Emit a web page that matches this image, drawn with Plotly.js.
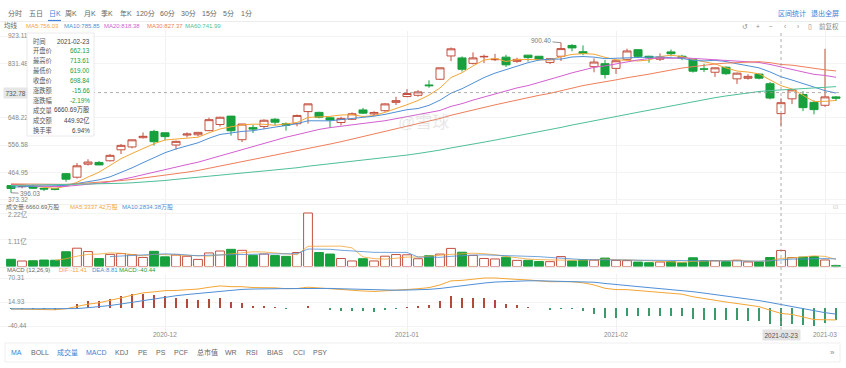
<!DOCTYPE html>
<html><head><meta charset="utf-8">
<script src="https://cdn.plot.ly/plotly-3.0.1.min.js"></script>
<style>html,body{margin:0;padding:0;background:#fff;}#chart{width:846px;height:368px;}</style>
</head><body><div id="chart"></div>
<script>
const dates = ['2020-11-10','2020-11-11','2020-11-12','2020-11-13','2020-11-16','2020-11-17','2020-11-18','2020-11-19','2020-11-20','2020-11-23','2020-11-24','2020-11-25','2020-11-27','2020-11-30',
'2020-12-01','2020-12-02','2020-12-03','2020-12-04','2020-12-07','2020-12-08','2020-12-09','2020-12-10','2020-12-11','2020-12-14','2020-12-15','2020-12-16','2020-12-17','2020-12-18','2020-12-21','2020-12-22','2020-12-23','2020-12-24','2020-12-28','2020-12-29','2020-12-30','2020-12-31',
'2021-01-04','2021-01-05','2021-01-06','2021-01-07','2021-01-08','2021-01-11','2021-01-12','2021-01-13','2021-01-14','2021-01-15','2021-01-19','2021-01-20','2021-01-21','2021-01-22','2021-01-25','2021-01-26','2021-01-27','2021-01-28','2021-01-29',
'2021-02-01','2021-02-02','2021-02-03','2021-02-04','2021-02-05','2021-02-08','2021-02-09','2021-02-10','2021-02-11','2021-02-12','2021-02-16','2021-02-17','2021-02-18','2021-02-19','2021-02-22','2021-02-23','2021-02-24','2021-02-25','2021-02-26',
'2021-03-01','2021-03-02'];
const open = [420.09,416.45,415.05,410.85,408.93,460.17,448.35,492.00,497.99,503.50,540.40,550.06,581.16,602.21,
597.59,556.44,590.02,591.01,604.92,625.51,653.69,574.37,615.01,619.00,643.28,628.23,628.19,668.90,666.24,648.00,632.20,642.99,674.51,661.00,672.00,699.99,
719.46,723.66,758.49,777.63,856.00,849.40,831.00,852.76,843.39,852.00,837.80,858.74,855.00,834.31,855.00,891.38,870.35,820.00,830.00,
814.29,844.68,877.02,855.00,845.00,869.67,855.12,843.64,812.44,801.26,818.00,779.09,780.90,795.00,762.64,662.13,711.85,726.15,700.00,
690.11,718.28];
const high = [420.09,418.70,423.00,412.53,412.45,462.00,496.00,508.61,502.50,526.00,559.99,574.00,598.78,607.80,
597.85,571.54,598.97,599.04,648.79,651.28,654.32,627.75,624.00,642.75,646.90,632.50,658.82,695.00,668.50,649.88,651.50,666.09,681.40,669.90,696.60,718.72,
744.49,740.84,774.00,816.99,884.49,854.43,868.00,860.47,863.00,859.90,850.00,859.50,855.72,848.00,900.40,895.90,891.50,848.00,842.41,
842.00,880.50,878.08,856.50,864.77,877.77,859.80,844.82,829.88,817.33,821.00,799.84,794.69,796.79,768.50,713.61,745.00,737.21,706.70,
880.00,721.11];
const low = [396.03,410.58,409.52,401.66,404.09,433.01,443.50,487.57,489.06,501.79,526.20,545.37,578.45,554.51,
572.05,541.21,582.43,585.50,603.05,618.50,588.00,566.34,596.80,610.20,623.80,605.00,619.50,628.54,646.07,614.23,622.57,641.00,660.80,655.00,668.36,691.12,
717.19,719.20,749.10,775.20,838.39,803.62,827.34,832.00,838.75,819.10,833.00,837.28,841.42,828.62,838.82,871.60,858.66,801.00,780.10,
795.56,842.20,853.06,833.42,838.97,854.75,841.75,800.02,801.73,785.33,792.44,762.01,776.27,777.37,710.20,619.00,694.17,670.58,659.51,
685.05,705.00];
const close = [410.36,417.13,411.76,408.50,408.09,441.61,486.64,499.27,489.61,521.85,555.38,574.00,585.76,567.60,
584.76,568.82,593.38,599.04,641.76,649.88,604.48,627.07,609.99,639.83,633.25,622.77,655.90,695.00,649.86,640.34,645.98,661.77,663.69,665.99,694.78,705.67,
729.77,735.11,755.98,816.04,880.02,811.19,849.44,854.41,845.00,826.16,844.55,850.45,844.99,846.64,880.80,883.09,864.16,835.43,793.53,
839.81,872.79,854.69,849.99,852.23,863.42,849.46,804.82,811.66,816.12,796.22,798.15,787.38,781.30,714.50,698.84,742.02,682.22,675.50,
718.43,714.00];
// volume in millions of shares
const volume = [30.0,22.8,23.9,26.8,26.0,61.2,76.0,62.0,32.9,50.3,53.6,48.9,37.6,63.0,
40.1,47.7,42.6,29.4,56.3,64.3,71.3,67.1,46.5,52.0,45.2,42.1,58.0,222.1,58.0,51.7,33.2,22.9,32.3,22.9,42.8,49.6,
48.6,32.2,44.7,51.5,75.1,59.3,46.3,33.3,31.3,38.8,25.4,25.7,20.8,20.1,41.2,23.1,27.3,26.4,34.9,
25.4,24.3,18.3,15.8,18.6,20.2,15.2,36.2,23.8,23.8,19.8,25.9,18.9,18.9,37.3,66.61,36.8,39.0,41.0,
27.1,4.0];
// closes before the visible window (needed for the moving averages / MACD drawn from the left edge)
const earlierCloses = [377.42,375.71,400.37,409.99,402.84,404.67,430.63,447.75,442.68,498.32,
475.05,447.37,407.00,418.32,330.21,366.28,371.34,372.72,419.62,449.76,441.76,423.43,442.15,449.39,424.23,380.36,387.79,407.34,421.20,419.07,429.01,
448.16,415.09,425.68,413.98,425.30,425.92,434.00,442.30,446.65,461.30,448.88,439.67,430.83,421.94,422.64,425.79,420.63,420.28,424.68,406.02,410.83,388.04,
400.51,423.90,420.98,438.09,429.95,421.26];

const priceTicks = [923.11, 831.48, 648.22, 556.58, 464.95, 373.32];
const volTicks = [222, 111];
const volTickText = ['2.22亿', '1.11亿'];
const macdTicks = [70.31, 14.93, -40.44];
const monthTicks = ['2020-12-01','2021-01-04','2021-02-01','2021-03-01'];
const monthLabels = ['2020-12','2021-01','2021-02','2021-03'];
const focusDate = '2021-02-23';
const crosshairPrice = 732.78;
const highMark = {date:'2021-01-25', value:900.40};
const lowMark = {date:'2020-11-10', value:396.03};

const maLegend = ['MA5:756.03','MA10:785.85','MA20:818.38','MA30:827.37','MA60:741.99'];
const maPeriods = [5,10,20,30,60];
const maColors = ['#f4a636','#4f8fd6','#d35fd0','#ef7f5a','#4fbf9a'];
const infoLabels = ['时间','开盘价','最高价','最低价','收盘价','涨跌额','涨跌幅','成交量','成交额','换手率'];
const infoValues = ['2021-02-23','662.13','713.61','619.00','698.84','-15.66','-2.19%','6660.69万股','449.92亿','6.94%'];

const W = 846, H = 368;
const FONT = 'Liberation Sans, Noto Sans CJK SC, sans-serif';
const RED = '#c4503f', GREEN = '#17a03c', BLUE = '#3d7fd9';

const allC = earlierCloses.concat(close);
const off = earlierCloses.length;
function sma(arr, n, offset) {
  return close.map((_, i) => {
    const j = i + offset;
    if (j - n + 1 < 0) return null;
    let s = 0; for (let k = j - n + 1; k <= j; k++) s += arr[k];
    return s / n;
  });
}
function ema(arr, n) {
  const a = 2 / (n + 1); const out = []; let e = arr[0];
  arr.forEach((v, i) => { e = i === 0 ? v : a * v + (1 - a) * e; out.push(e); });
  return out;
}
const e12 = ema(allC, 12), e26 = ema(allC, 26);
const difAll = e12.map((v, i) => v - e26[i]);
const deaAll = ema(difAll, 9);
const dif = difAll.slice(off), dea = deaAll.slice(off);
const macd = dif.map((v, i) => 2 * (v - dea[i]));

const traces = [];
traces.push({type:'candlestick', x:dates, open:open, high:high, low:low, close:close, xaxis:'x', yaxis:'y',
  increasing:{line:{color:RED, width:1}, fillcolor:'#ffffff'},
  decreasing:{line:{color:GREEN, width:1}, fillcolor:GREEN},
  whiskerwidth:0, hoverinfo:'skip'});
maPeriods.forEach((n, k) => {
  traces.push({type:'scatter', mode:'lines', x:dates, y:sma(allC, n, off), xaxis:'x', yaxis:'y',
    line:{color:maColors[k], width:1}, hoverinfo:'skip'});
});
traces.push({type:'bar', x:dates, y:volume, xaxis:'x', yaxis:'y2', width:0.8,
  marker:{color:close.map((c,i)=> c >= open[i] ? '#ffffff' : GREEN),
          line:{color:close.map((c,i)=> c >= open[i] ? RED : GREEN), width:1}}, hoverinfo:'skip'});
traces.push({type:'scatter', mode:'lines', x:dates, y:sma(volume,5,0), xaxis:'x', yaxis:'y2', line:{color:'#f4a636', width:0.8}, hoverinfo:'skip'});
traces.push({type:'scatter', mode:'lines', x:dates, y:sma(volume,10,0), xaxis:'x', yaxis:'y2', line:{color:'#4f8fd6', width:0.8}, hoverinfo:'skip'});
traces.push({type:'bar', x:dates, y:macd, xaxis:'x', yaxis:'y3', width:0.1,
  marker:{color:macd.map(v => v >= 0 ? '#b24a3c' : '#3a9a6a'), line:{width:0}}, hoverinfo:'skip'});
traces.push({type:'scatter', mode:'lines', x:dates, y:dif, xaxis:'x', yaxis:'y3', line:{color:'#f4a636', width:1}, hoverinfo:'skip'});
traces.push({type:'scatter', mode:'lines', x:dates, y:dea, xaxis:'x', yaxis:'y3', line:{color:'#4f8fd6', width:1}, hoverinfo:'skip'});

function px(x){return x / W;} function py(y){return 1 - y / H;}
function txt(text, x, y, o) {
  o = o || {};
  return {text:text, x:px(x), y:py(y), xref:'paper', yref:'paper', showarrow:false,
    xanchor:o.anchor || 'left', yanchor:'middle', borderpad:0,
    font:{size:o.size || 6, color:o.color || '#666', family:FONT}};
}
const ann = [];
const topItems = [['分时',15],['五日',35.5],['日K',54.5],['周K',71],['月K',90],['季K',107.5],['年K',125.5],['120分',145.5],['60分',167],['30分',188.5],['15分',209.5],['5分',228.5],['1分',247]];
topItems.forEach(([t,x]) => ann.push(txt(t, x, 13.5, {anchor:'center', size:7, color: t === '日K' ? BLUE : '#666'})));
ann.push(txt('区间统计', 792, 13.5, {anchor:'center', size:7, color:BLUE}));
ann.push(txt('退出全屏', 824.5, 13.5, {anchor:'center', size:7, color:BLUE}));
ann.push(txt('均线', 11, 26, {anchor:'center', size:6.5, color:'#666'}));
const maX = [25, 63, 103, 146, 184];
maLegend.forEach((t,k) => ann.push(txt(t, maX[k], 26, {color:maColors[k]})));
[['↺',745],['+',758],['−',771],['‹',785],['›',798],['▯',810],['前复权',829]].forEach(([t,x]) =>
  ann.push(txt(t, x, 26.5, {anchor:'center', size:6.5, color:'#888'})));
infoLabels.forEach((t,i) => {
  const y = 41 + 9.9 * i;
  ann.push(txt(t, 32, y, {color:'#555', size:6.3}));
  ann.push(txt(infoValues[i], 91, y, {anchor:'right', size:6.3, color: (i >= 1 && i <= 6) ? GREEN : '#444'}));
});
ann.push({text:crosshairPrice.toFixed(2), x:px(15.5), y:crosshairPrice, xref:'paper', yref:'y', showarrow:false,
  xanchor:'center', yanchor:'middle', bgcolor:'#e6e6e6', borderpad:1.5, font:{size:6.5, color:'#555', family:FONT}});
// date tick labels placed on the shared x axis scale
monthTicks.forEach((d, k) => ann.push({text:monthLabels[k], x:d, y:py(334.5), xref:'x', yref:'paper', showarrow:false,
  xanchor:'center', yanchor:'middle', borderpad:0, font:{size:6.5, color:'#888', family:FONT}}));
ann.push({text:focusDate, x:focusDate, y:py(334.5), xref:'x', yref:'paper', showarrow:false,
  xanchor:'center', yanchor:'middle', bgcolor:'#e3e3e3', borderpad:1.5, font:{size:6.5, color:'#555', family:FONT}});
ann.push({text:highMark.value.toFixed(2), x:highMark.date, y:highMark.value, xref:'x', yref:'y', showarrow:true,
  arrowhead:0, arrowwidth:0.8, arrowcolor:'#777', ax:-20, ay:-2, font:{size:6.5, color:'#777', family:FONT}});
ann.push({text:lowMark.value.toFixed(2), x:lowMark.date, y:lowMark.value, xref:'x', yref:'y', showarrow:true,
  arrowhead:0, arrowwidth:0.8, arrowcolor:'#777', ax:19, ay:1, font:{size:6.5, color:'#777', family:FONT}});
ann.push(txt('@雪球', 424, 122, {anchor:'center', size:17, color:'rgba(185,185,185,0.35)'}));
ann.push(txt('成交量:6660.69万股', 5, 207, {color:'#666'}));
ann.push(txt('MA5:3337.42万股', 69, 207, {color:'#f4a636'}));
ann.push(txt('MA10:2834.38万股', 121, 207, {color:'#4f8fd6'}));
ann.push(txt('⊡', 835, 207, {anchor:'center', size:6, color:'#bbb'}));
ann.push(txt('⊡', 835, 266, {anchor:'center', size:6, color:'#bbb'}));
ann.push(txt('MACD (12,26,9)', 6, 270, {color:'#666'}));
ann.push(txt('DIF:-11.41', 58, 270, {color:'#f4a636'}));
ann.push(txt('DEA:8.81', 91, 270, {color:'#4f8fd6'}));
ann.push(txt('MACD:-40.44', 118, 270, {color:GREEN}));
const botItems = [['MA',16.5,1],['BOLL',39.5,0],['成交量',67.5,1],['MACD',96.5,1],['KDJ',121.5,0],['PE',142.5,0],['PS',160.5,0],['PCF',180.5,0],['总市值',207.5,0],['WR',231.5,0],['RSI',252,0],['BIAS',274.5,0],['CCI',299,0],['PSY',320,0]];
botItems.forEach(([t,x,b]) => ann.push(txt(t, x, 352.5, {anchor:'center', size:7, color: b ? BLUE : '#666'})));
ann.push(txt('»', 832, 352, {anchor:'center', size:8, color:'#888'}));

const shapes = [
  {type:'line', xref:'paper', yref:'paper', x0:0, x1:1, y0:py(21.5), y1:py(21.5), line:{color:'#ececec', width:1}},
  {type:'line', xref:'paper', yref:'paper', x0:px(48), x1:px(61), y0:py(20.5), y1:py(20.5), line:{color:BLUE, width:1.2}},
  {type:'line', xref:'paper', yref:'paper', x0:0, x1:1, y0:py(204.5), y1:py(204.5), line:{color:'#f0f0f0', width:1}},
  {type:'line', xref:'paper', yref:'paper', x0:0, x1:1, y0:py(267.5), y1:py(267.5), line:{color:'#f0f0f0', width:1}},
  {type:'line', xref:'x', yref:'paper', x0:focusDate, x1:focusDate, y0:py(33), y1:py(330), line:{color:'#999', width:0.8, dash:'dot'}},
  {type:'line', xref:'paper', yref:'y', x0:px(26), x1:px(842), y0:crosshairPrice, y1:crosshairPrice, line:{color:'#999', width:0.8, dash:'dot'}},
  {type:'rect', xref:'paper', yref:'paper', x0:px(27), x1:px(94), y0:py(136), y1:py(33), fillcolor:'rgba(255,255,255,0.96)', line:{color:'#e4e4e4', width:0.8}},
  {type:'rect', xref:'paper', yref:'paper', x0:px(5), x1:px(840), y0:py(362), y1:py(343), fillcolor:'rgba(0,0,0,0)', line:{color:'#ebebeb', width:0.8}}
];

const axFont = {size:6.5, color:'#888', family:FONT};
const layout = {
  width:W, height:H, margin:{l:0, r:0, t:0, b:0}, paper_bgcolor:'#fff', plot_bgcolor:'#fff',
  showlegend:false, hovermode:false, dragmode:false, bargap:0, boxgap:0.27, boxgroupgap:0,
  xaxis:{type:'category', domain:[0,1], anchor:'y3', range:[-1, 75.909], tickvals:monthTicks, showticklabels:false,
    showgrid:true, gridcolor:'#f1f1f1', gridwidth:1, ticks:'', showline:false, zeroline:false,
    rangeslider:{visible:false}, fixedrange:true},
  yaxis:{domain:[py(205), py(31)], range:[354.83, 939.92], tickvals:priceTicks, ticktext:priceTicks.map(v=>v.toFixed(2)),
    ticklabelposition:'inside', ticklabeloverflow:'allow', ticklabelstandoff:5, ticks:'', tickfont:axFont,
    gridcolor:'#f4f4f4', zeroline:false, showline:false, fixedrange:true},
  yaxis2:{domain:[py(266.5), py(212)], range:[0, 226.25], tickvals:volTicks, ticktext:volTickText,
    ticklabelposition:'inside', ticklabeloverflow:'allow', ticklabelstandoff:5, ticklabelshift:2, ticks:'', tickfont:axFont,
    gridcolor:'#f4f4f4', zeroline:false, showline:false, fixedrange:true},
  yaxis3:{domain:[py(332), py(274)], range:[-54.28, 79.54], tickvals:macdTicks, ticktext:macdTicks.map(v=>v.toFixed(2)),
    ticklabelposition:'inside', ticklabeloverflow:'allow', ticklabelstandoff:5, ticks:'', tickfont:axFont,
    gridcolor:'#f4f4f4', zeroline:false, showline:false, fixedrange:true},
  annotations:ann, shapes:shapes
};
Plotly.newPlot('chart', traces, layout, {staticPlot:true, displayModeBar:false});
</script></body></html>
